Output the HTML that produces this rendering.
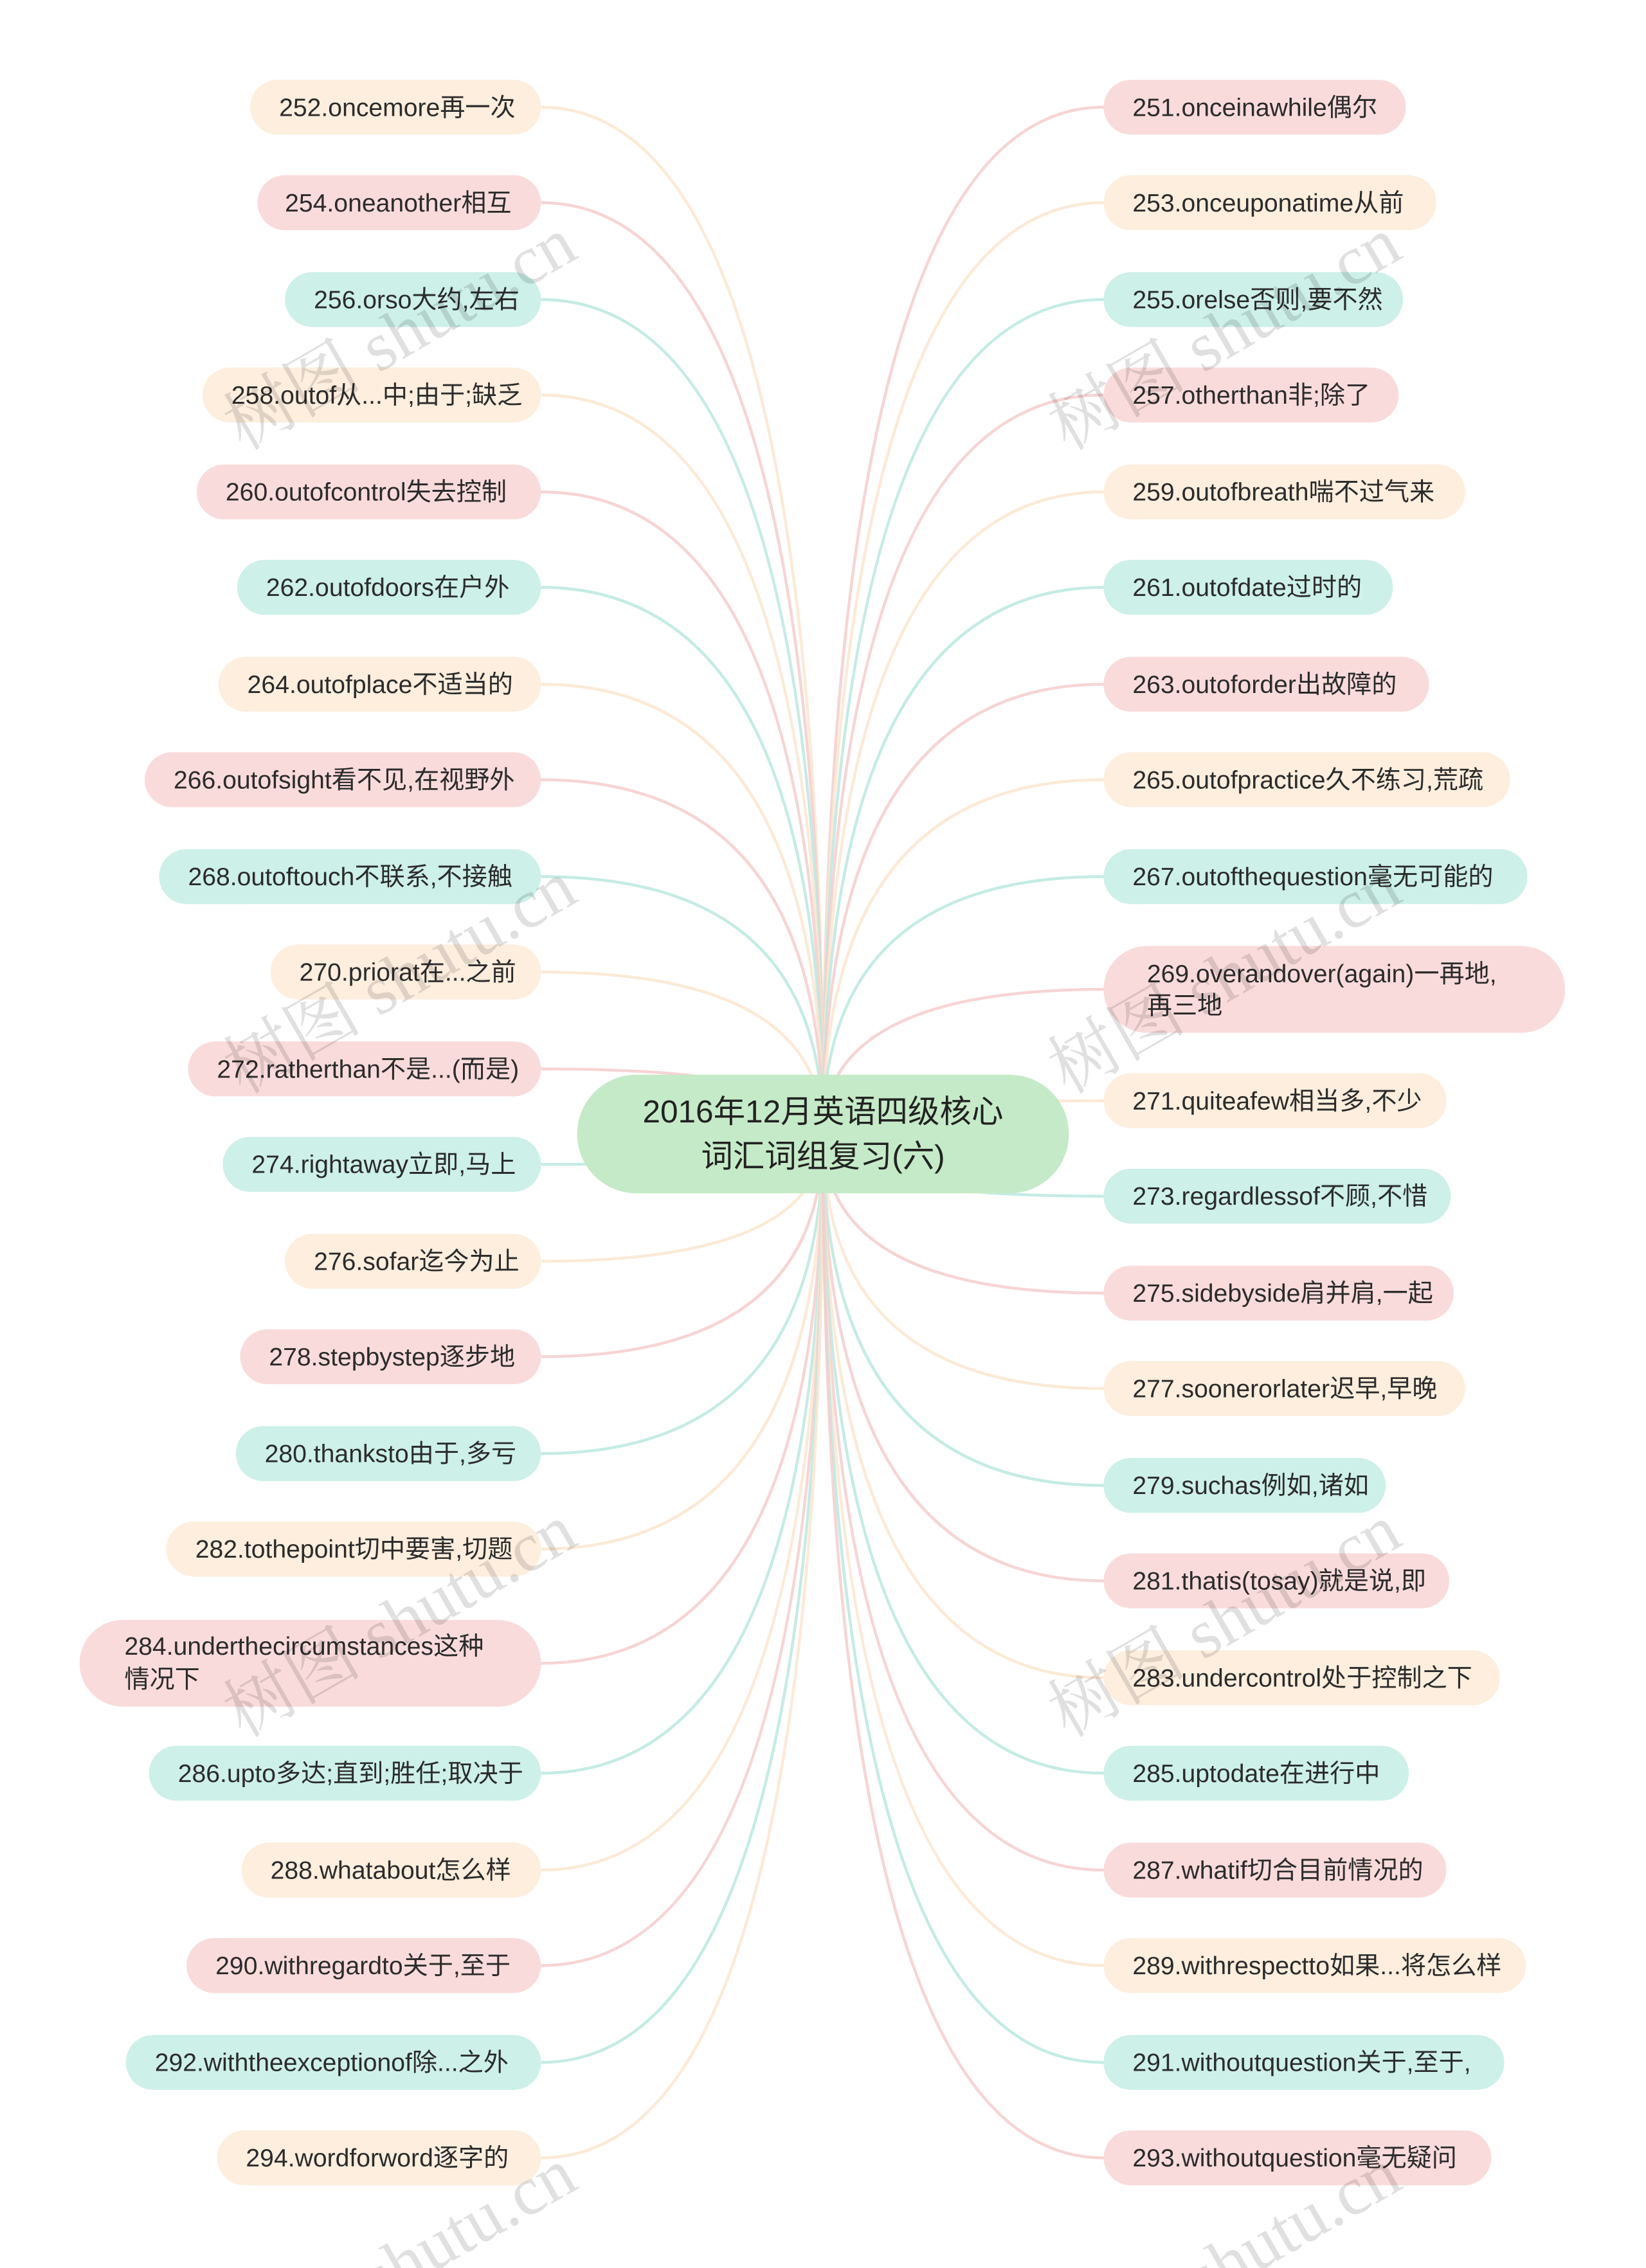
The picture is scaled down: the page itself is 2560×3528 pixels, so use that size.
<!DOCTYPE html>
<html><head><meta charset="utf-8"><style>
html,body{margin:0;padding:0;background:#fff;width:2560px;height:3528px;overflow:hidden;}
svg{display:block;}
text{font-family:"Liberation Sans","Noto Sans CJK SC",sans-serif;fill:#2b2b2b;font-size:17.4px;}
.c{font-size:22px;fill:#222;}
.w{font-family:"Liberation Serif","Noto Serif CJK SC",serif;font-size:48px;fill:#000;fill-opacity:0.12;}
</style></head><body>
<svg width="2560" height="3528" viewBox="0 0 1138 1568" xmlns="http://www.w3.org/2000/svg">
<g fill="none" stroke-width="2" stroke-opacity="0.85">
<path d="M374 74 Q569 74 569 784" stroke="#fbe6cf"/>
<path d="M374 140 Q569 140 569 784" stroke="#f6cdcd"/>
<path d="M374 207 Q569 207 569 784" stroke="#b9e9df"/>
<path d="M374 273 Q569 273 569 784" stroke="#fbe6cf"/>
<path d="M374 340 Q569 340 569 784" stroke="#f6cdcd"/>
<path d="M374 406 Q569 406 569 784" stroke="#b9e9df"/>
<path d="M374 473 Q569 473 569 784" stroke="#fbe6cf"/>
<path d="M374 539 Q569 539 569 784" stroke="#f6cdcd"/>
<path d="M374 606 Q569 606 569 784" stroke="#b9e9df"/>
<path d="M374 672 Q569 672 569 784" stroke="#fbe6cf"/>
<path d="M374 739 Q569 739 569 784" stroke="#f6cdcd"/>
<path d="M374 805 Q569 805 569 784" stroke="#b9e9df"/>
<path d="M374 872 Q569 872 569 784" stroke="#fbe6cf"/>
<path d="M374 938 Q569 938 569 784" stroke="#f6cdcd"/>
<path d="M374 1005 Q569 1005 569 784" stroke="#b9e9df"/>
<path d="M374 1071 Q569 1071 569 784" stroke="#fbe6cf"/>
<path d="M374 1150 Q569 1150 569 784" stroke="#f6cdcd"/>
<path d="M374 1226 Q569 1226 569 784" stroke="#b9e9df"/>
<path d="M374 1293 Q569 1293 569 784" stroke="#fbe6cf"/>
<path d="M374 1359 Q569 1359 569 784" stroke="#f6cdcd"/>
<path d="M374 1426 Q569 1426 569 784" stroke="#b9e9df"/>
<path d="M374 1492 Q569 1492 569 784" stroke="#fbe6cf"/>
<path d="M763 74 Q569 74 569 784" stroke="#f6cdcd"/>
<path d="M763 140 Q569 140 569 784" stroke="#fbe6cf"/>
<path d="M763 207 Q569 207 569 784" stroke="#b9e9df"/>
<path d="M763 273 Q569 273 569 784" stroke="#f6cdcd"/>
<path d="M763 340 Q569 340 569 784" stroke="#fbe6cf"/>
<path d="M763 406 Q569 406 569 784" stroke="#b9e9df"/>
<path d="M763 473 Q569 473 569 784" stroke="#f6cdcd"/>
<path d="M763 539 Q569 539 569 784" stroke="#fbe6cf"/>
<path d="M763 606 Q569 606 569 784" stroke="#b9e9df"/>
<path d="M763 684 Q569 684 569 784" stroke="#f6cdcd"/>
<path d="M763 761 Q569 761 569 784" stroke="#fbe6cf"/>
<path d="M763 827 Q569 827 569 784" stroke="#b9e9df"/>
<path d="M763 894 Q569 894 569 784" stroke="#f6cdcd"/>
<path d="M763 960 Q569 960 569 784" stroke="#fbe6cf"/>
<path d="M763 1027 Q569 1027 569 784" stroke="#b9e9df"/>
<path d="M763 1093 Q569 1093 569 784" stroke="#f6cdcd"/>
<path d="M763 1160 Q569 1160 569 784" stroke="#fbe6cf"/>
<path d="M763 1226 Q569 1226 569 784" stroke="#b9e9df"/>
<path d="M763 1293 Q569 1293 569 784" stroke="#f6cdcd"/>
<path d="M763 1359 Q569 1359 569 784" stroke="#fbe6cf"/>
<path d="M763 1426 Q569 1426 569 784" stroke="#b9e9df"/>
<path d="M763 1492 Q569 1492 569 784" stroke="#f6cdcd"/>
</g>
<g>
<rect x="173" y="55" width="201" height="38" rx="19" fill="#fdeede"/><text x="193" y="80">252.oncemore再一次</text>
<rect x="178" y="121" width="196" height="38" rx="19" fill="#fadbdb"/><text x="197" y="146">254.oneanother相互</text>
<rect x="197" y="188" width="177" height="38" rx="19" fill="#cdf0e9"/><text x="217" y="213">256.orso大约,左右</text>
<rect x="140" y="254" width="234" height="38" rx="19" fill="#fdeede"/><text x="160" y="279">258.outof从...中;由于;缺乏</text>
<rect x="136" y="321" width="238" height="38" rx="19" fill="#fadbdb"/><text x="156" y="346">260.outofcontrol失去控制</text>
<rect x="164" y="387" width="210" height="38" rx="19" fill="#cdf0e9"/><text x="184" y="412">262.outofdoors在户外</text>
<rect x="151" y="454" width="223" height="38" rx="19" fill="#fdeede"/><text x="171" y="479">264.outofplace不适当的</text>
<rect x="100" y="520" width="274" height="38" rx="19" fill="#fadbdb"/><text x="120" y="545">266.outofsight看不见,在视野外</text>
<rect x="110" y="587" width="264" height="38" rx="19" fill="#cdf0e9"/><text x="130" y="612">268.outoftouch不联系,不接触</text>
<rect x="187" y="653" width="187" height="38" rx="19" fill="#fdeede"/><text x="207" y="678">270.priorat在...之前</text>
<rect x="130" y="720" width="244" height="38" rx="19" fill="#fadbdb"/><text x="150" y="745">272.ratherthan不是...(而是)</text>
<rect x="154" y="786" width="220" height="38" rx="19" fill="#cdf0e9"/><text x="174" y="811">274.rightaway立即,马上</text>
<rect x="197" y="853" width="177" height="38" rx="19" fill="#fdeede"/><text x="217" y="878">276.sofar迄今为止</text>
<rect x="166" y="919" width="208" height="38" rx="19" fill="#fadbdb"/><text x="186" y="944">278.stepbystep逐步地</text>
<rect x="163" y="986" width="211" height="38" rx="19" fill="#cdf0e9"/><text x="183" y="1011">280.thanksto由于,多亏</text>
<rect x="115" y="1052" width="259" height="38" rx="19" fill="#fdeede"/><text x="135" y="1077">282.tothepoint切中要害,切题</text>
<rect x="55" y="1120" width="319" height="60" rx="30" fill="#fadbdb"/><text x="86" y="1144">284.underthecircumstances这种</text><text x="86" y="1167">情况下</text>
<rect x="103" y="1207" width="271" height="38" rx="19" fill="#cdf0e9"/><text x="123" y="1232">286.upto多达;直到;胜任;取决于</text>
<rect x="167" y="1274" width="207" height="38" rx="19" fill="#fdeede"/><text x="187" y="1299">288.whatabout怎么样</text>
<rect x="129" y="1340" width="245" height="38" rx="19" fill="#fadbdb"/><text x="149" y="1365">290.withregardto关于,至于</text>
<rect x="87" y="1407" width="287" height="38" rx="19" fill="#cdf0e9"/><text x="107" y="1432">292.withtheexceptionof除...之外</text>
<rect x="150" y="1473" width="224" height="38" rx="19" fill="#fdeede"/><text x="170" y="1498">294.wordforword逐字的</text>
</g>
<g>
<rect x="763" y="55" width="209" height="38" rx="19" fill="#fadbdb"/><text x="783" y="80">251.onceinawhile偶尔</text>
<rect x="763" y="121" width="230" height="38" rx="19" fill="#fdeede"/><text x="783" y="146">253.onceuponatime从前</text>
<rect x="763" y="188" width="207" height="38" rx="19" fill="#cdf0e9"/><text x="783" y="213">255.orelse否则,要不然</text>
<rect x="763" y="254" width="204" height="38" rx="19" fill="#fadbdb"/><text x="783" y="279">257.otherthan非;除了</text>
<rect x="763" y="321" width="250" height="38" rx="19" fill="#fdeede"/><text x="783" y="346">259.outofbreath喘不过气来</text>
<rect x="763" y="387" width="200" height="38" rx="19" fill="#cdf0e9"/><text x="783" y="412">261.outofdate过时的</text>
<rect x="763" y="454" width="225" height="38" rx="19" fill="#fadbdb"/><text x="783" y="479">263.outoforder出故障的</text>
<rect x="763" y="520" width="281" height="38" rx="19" fill="#fdeede"/><text x="783" y="545">265.outofpractice久不练习,荒疏</text>
<rect x="763" y="587" width="293" height="38" rx="19" fill="#cdf0e9"/><text x="783" y="612">267.outofthequestion毫无可能的</text>
<rect x="763" y="654" width="319" height="60" rx="30" fill="#fadbdb"/><text x="793" y="679">269.overandover(again)一再地,</text><text x="793" y="701">再三地</text>
<rect x="763" y="742" width="237" height="38" rx="19" fill="#fdeede"/><text x="783" y="767">271.quiteafew相当多,不少</text>
<rect x="763" y="808" width="240" height="38" rx="19" fill="#cdf0e9"/><text x="783" y="833">273.regardlessof不顾,不惜</text>
<rect x="763" y="875" width="242" height="38" rx="19" fill="#fadbdb"/><text x="783" y="900">275.sidebyside肩并肩,一起</text>
<rect x="763" y="941" width="250" height="38" rx="19" fill="#fdeede"/><text x="783" y="966">277.soonerorlater迟早,早晚</text>
<rect x="763" y="1008" width="195" height="38" rx="19" fill="#cdf0e9"/><text x="783" y="1033">279.suchas例如,诸如</text>
<rect x="763" y="1074" width="239" height="38" rx="19" fill="#fadbdb"/><text x="783" y="1099">281.thatis(tosay)就是说,即</text>
<rect x="763" y="1141" width="274" height="38" rx="19" fill="#fdeede"/><text x="783" y="1166">283.undercontrol处于控制之下</text>
<rect x="763" y="1207" width="211" height="38" rx="19" fill="#cdf0e9"/><text x="783" y="1232">285.uptodate在进行中</text>
<rect x="763" y="1274" width="237" height="38" rx="19" fill="#fadbdb"/><text x="783" y="1299">287.whatif切合目前情况的</text>
<rect x="763" y="1340" width="292" height="38" rx="19" fill="#fdeede"/><text x="783" y="1365">289.withrespectto如果...将怎么样</text>
<rect x="763" y="1407" width="277" height="38" rx="19" fill="#cdf0e9"/><text x="783" y="1432">291.withoutquestion关于,至于,</text>
<rect x="763" y="1473" width="268" height="38" rx="19" fill="#fadbdb"/><text x="783" y="1498">293.withoutquestion毫无疑问</text>
</g>
<rect x="399" y="743" width="340" height="82" rx="41" fill="#c5eac7"/>
<text class="c" x="569" y="776" text-anchor="middle">2016年12月英语四级核心</text>
<text class="c" x="569" y="807" text-anchor="middle">词汇词组复习(六)</text>
<g>
<text class="w" transform="translate(168,312) rotate(-30)">树图 shutu.cn</text>
<text class="w" transform="translate(738,312) rotate(-30)">树图 shutu.cn</text>
<text class="w" transform="translate(168,757) rotate(-30)">树图 shutu.cn</text>
<text class="w" transform="translate(738,757) rotate(-30)">树图 shutu.cn</text>
<text class="w" transform="translate(168,1202) rotate(-30)">树图 shutu.cn</text>
<text class="w" transform="translate(738,1202) rotate(-30)">树图 shutu.cn</text>
<text class="w" transform="translate(168,1647) rotate(-30)">树图 shutu.cn</text>
<text class="w" transform="translate(738,1647) rotate(-30)">树图 shutu.cn</text>
</g>
</svg>
</body></html>
